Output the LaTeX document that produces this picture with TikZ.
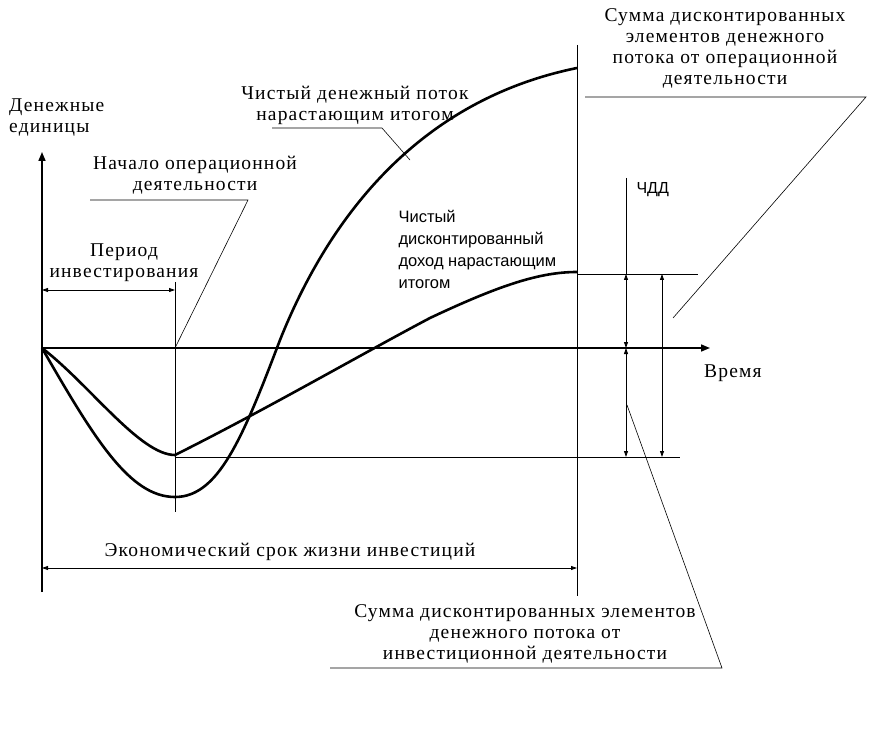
\documentclass[tikz,border=0pt]{standalone}
\usepackage{fontspec}
\setmainfont[LetterSpace=6]{Liberation Serif}
\newfontfamily\sansru{Liberation Sans}
\usetikzlibrary{arrows.meta}
\tikzstyle{txt} = [font=\fontsize{19.5}{21}\selectfont, align=center, inner sep=1pt]
\tikzstyle{axis} = [line width=1.6pt, -{Triangle[length=9pt,width=7pt]}]
\tikzstyle{curve} = [line width=2.6pt]
\tikzstyle{thin} = [line width=0.8pt]
\tikzstyle{span} = [line width=0.8pt, {Triangle[length=6pt,width=4pt]}-{Triangle[length=6pt,width=4pt]}]
\tikzstyle{leader} = [line width=0.6pt]

\begin{document}
\begin{tikzpicture}[x=1pt, y=-1pt]
    \useasboundingbox (0,0) rectangle (876,738);
    % axes
    \coordinate (o) at (42,348);
    \coordinate (ytop) at (42,152);
    \coordinate (ybot) at (42,592);
    \coordinate (xend) at (710,348);
    \draw [axis] (ybot) -- (ytop);
    \draw [axis] (o) -- (xend);
    \node (money) [txt, align=left, anchor=west] at (8,118) {Денежные\\единицы};
    \node (time) [txt, anchor=west] at (703,373) {Время};
    % verticals
    \coordinate (start-top) at (175,282);
    \coordinate (start-bot) at (175,512);
    \coordinate (life-top) at (577,45);
    \coordinate (life-bot) at (577,596);
    \draw [thin] (start-top) -- (start-bot);
    \draw [thin] (life-top) -- (life-bot);
    % spans
    \coordinate (inv-a) at (42,290);
    \coordinate (inv-b) at (175,290);
    \draw [span] (inv-a) -- (inv-b);
    \node (inv) [txt] at (124,263) {Период\\инвестирования};
    \coordinate (life-a) at (42,568);
    \coordinate (life-b) at (577,568);
    \draw [span] (life-a) -- (life-b);
    \node (life) [txt] at (290,552) {Экономический срок жизни инвестиций};
    % curves
    \draw [curve] (o) .. controls (95,440) and (130,497) .. (175,497)
        .. controls (218,497) and (242,440) .. (280,340)
        .. controls (330,215) and (420,100) .. (577,68);
    \draw [curve] (o) .. controls (90,385) and (140,455) .. (175,455)
        .. controls (265,410) and (360,355) .. (430,318)
        .. controls (500,285) and (540,272) .. (577,272);
    % levels
    \coordinate (npv-a) at (577,274);
    \coordinate (npv-b) at (698,274);
    \coordinate (low-a) at (175,457);
    \coordinate (low-b) at (680,457);
    \draw [thin] (npv-a) -- (npv-b);
    \draw [thin] (low-a) -- (low-b);
    \coordinate (chdd-top) at (626,178);
    \coordinate (chdd-a) at (626,274);
    \coordinate (chdd-b) at (626,348);
    \coordinate (chdd-c) at (626,457);
    \draw [thin] (chdd-top) -- (chdd-a);
    \draw [span] (chdd-a) -- (chdd-b);
    \draw [span] (chdd-b) -- (chdd-c);
    \coordinate (sum-a) at (662,274);
    \coordinate (sum-b) at (662,457);
    \draw [span] (sum-a) -- (sum-b);
    \node (chdd) [font=\sansru\fontsize{16}{18}\selectfont, anchor=west] at (633,190) {ЧДД};
    % labels with leaders
    \node (opstart) [txt] at (195,175) {Начало операционной\\деятельности};
    \coordinate (op-a) at (90,200);
    \coordinate (op-b) at (248,200);
    \draw [leader] (op-a) -- (op-b) -- (175,348);
    \node (ncf) [txt] at (355,105) {Чистый денежный поток\\нарастающим итогом};
    \coordinate (ncf-a) at (272,128);
    \coordinate (ncf-b) at (382,128);
    \coordinate (ncf-c) at (410,160);
    \draw [leader] (ncf-a) -- (ncf-b) -- (ncf-c);
    \node (npv) [font=\sansru\fontsize{16.5}{22}\selectfont, align=left, anchor=north west] at (395,207)
        {Чистый\\дисконтированный\\доход нарастающим\\итогом};
    \node (opsum) [txt] at (725,48) {Сумма дисконтированных\\элементов денежного\\потока от операционной\\деятельности};
    \coordinate (opsum-a) at (585,97);
    \coordinate (opsum-b) at (866,97);
    \coordinate (opsum-c) at (673,318);
    \draw [leader] (opsum-a) -- (opsum-b) -- (opsum-c);
    \node (invsum) [txt] at (525,634) {Сумма дисконтированных элементов\\денежного потока от\\инвестиционной деятельности};
    \coordinate (invsum-a) at (330,668);
    \coordinate (invsum-b) at (722,668);
    \coordinate (invsum-c) at (627,405);
    \draw [leader] (invsum-a) -- (invsum-b) -- (invsum-c);
\end{tikzpicture}
\end{document}
